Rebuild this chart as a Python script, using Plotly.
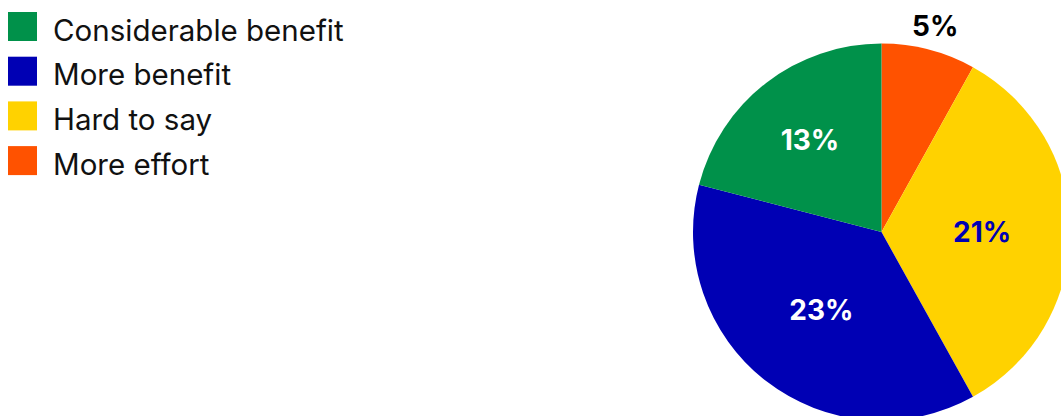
import math
import plotly.graph_objects as go

# Survey answers and their share (%)
labels = ["Considerable benefit", "More benefit", "Hard to say", "More effort"]
values = [13, 23, 21, 5]
colors = ["#00914a", "#0000b4", "#ffd200", "#ff5200"]
label_colors = ["#ffffff", "#ffffff", "#0000b4", "#000000"]

W, H = 1072, 422  # canvas slightly larger than the viewport so the pie bleeds off the edge

# pie placement in pixels
PIE_LEFT, PIE_RIGHT, PIE_TOP, PIE_BOTTOM = 693, 1070, 43.5, 420.5


def px_x(x):
    return x / W


def px_y(y):
    return 1 - y / H


# slices run clockwise from 12 o'clock in reverse legend order
order = list(range(len(labels)))[::-1]
pie_labels = [labels[i] for i in order]
pie_values = [values[i] for i in order]
pie_colors = [colors[i] for i in order]
pie_text_colors = [label_colors[i] for i in order]
# the smallest slice gets its label above the pie instead of inside
pie_text = ["" if values[i] == min(values) else f"{values[i]}%" for i in order]

fig = go.Figure()

fig.add_trace(go.Pie(
    labels=pie_labels,
    values=pie_values,
    text=pie_text,
    sort=False,
    direction="clockwise",
    rotation=0,
    marker=dict(colors=pie_colors, line=dict(width=0)),
    texttemplate="%{text}",
    textposition="inside",
    insidetextorientation="horizontal",
    textfont=dict(family="Inter", size=28, weight=700, color=pie_text_colors),
    showlegend=False,
    hoverinfo="label+value",
    domain=dict(x=[px_x(PIE_LEFT), px_x(PIE_RIGHT)], y=[px_y(PIE_BOTTOM), px_y(PIE_TOP)]),
))

# label of the small slice, placed just outside the rim at the slice's mid-angle
total = sum(pie_values)
cx = (PIE_LEFT + PIE_RIGHT) / 2
cy = (PIE_TOP + PIE_BOTTOM) / 2
radius = (PIE_RIGHT - PIE_LEFT) / 2
start = 0.0
for v, t in zip(pie_values, pie_text):
    frac = v / total
    if t == "":
        mid = (start + frac / 2) * 2 * math.pi
        lx = cx + math.sin(mid) * (radius + 24)
        ly = cy - math.cos(mid) * (radius + 24)
        fig.add_annotation(
            xref="paper", yref="paper", x=px_x(lx), y=px_y(ly),
            xanchor="center", yanchor="middle", showarrow=False,
            text=f"{v}%", font=dict(family="Inter", size=28, weight=700, color="#000000"),
        )
    start += frac

# Custom legend: large colour squares with labels
row_top = 12
row_step = 44.7
box = 29
for i, (lab, col) in enumerate(zip(labels, colors)):
    top = row_top + i * row_step
    fig.add_shape(
        type="rect", xref="paper", yref="paper",
        x0=px_x(8), x1=px_x(8 + box), y0=px_y(top + box), y1=px_y(top),
        fillcolor=col, line=dict(width=0),
    )
    fig.add_annotation(
        xref="paper", yref="paper", x=px_x(51), y=px_y(top + box / 2 + 3),
        xanchor="left", yanchor="middle", showarrow=False,
        text=lab, font=dict(family="Inter", size=29.5, color="#111111"),
    )

fig.update_layout(
    width=W, height=H,
    margin=dict(l=0, r=0, t=0, b=0),
    paper_bgcolor="white",
    plot_bgcolor="white",
)

fig.write_html(
    "out.html",
    post_script="document.documentElement.style.overflow='hidden';document.body.style.overflow='hidden';",
)
